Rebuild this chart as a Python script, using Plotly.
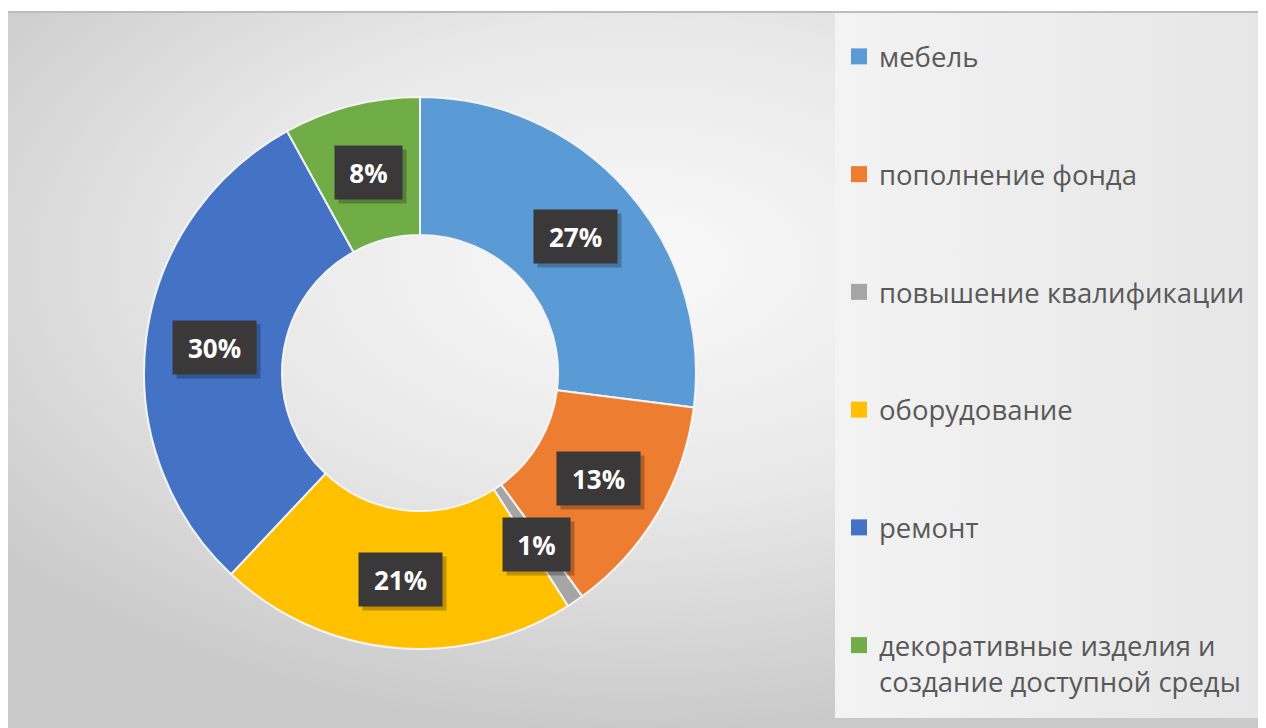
import base64
import math
import plotly.graph_objects as go

# ---- data ----
categories = [
    "мебель",
    "пополнение фонда",
    "повышение квалификации",
    "оборудование",
    "ремонт",
    "декоративные изделия и<br>создание доступной среды",
]
values = [27, 13, 1, 21, 30, 8]
colors = ["#5B9BD5", "#ED7D31", "#A5A5A5", "#FFC000", "#4472C4", "#70AD47"]

# ---- layout constants (figure pixel coordinates; page has an 8px body margin) ----
W, H = 1258, 720
CX, CY, R = 412, 365, 276
HOLE = 0.5

fig = go.Figure()

fig.add_trace(go.Pie(
    labels=categories,
    values=values,
    marker=dict(colors=colors, line=dict(color="#f4f4f4", width=2)),
    hole=HOLE,
    sort=False,
    direction="clockwise",
    rotation=0,
    textinfo="none",
    hoverinfo="label+percent",
    showlegend=False,
    domain=dict(x=[(CX - R) / W, (CX + R) / W], y=[1 - (CY + R) / H, 1 - (CY - R) / H]),
))

# legend entries (one group each so they can be spaced)
for cat, col in zip(categories, colors):
    fig.add_trace(go.Scatter(
        x=[None], y=[None], mode="markers", name=cat, legendgroup=cat,
        marker=dict(symbol="square", size=16, color=col),
        showlegend=True, hoverinfo="skip",
    ))

# data labels
total = sum(values)
rm = R * (1 + HOLE) / 2
cum = 0
annotations = []
for v in values:
    mid = (cum + v / 2) / total * 2 * math.pi
    cum += v
    px = CX + rm * math.sin(mid)
    py = CY - rm * math.cos(mid)
    pct = str(round(v / total * 100))
    bw = 16 * len(pct) + 29
    common = dict(x=px / W, y=1 - py / H, xref="paper", yref="paper",
                  showarrow=False, borderpad=11, xanchor="center", yanchor="middle",
                  width=bw, height=31)
    annotations.append(dict(text=" ", bgcolor="rgba(0,0,0,0.25)",
                            font=dict(family="Open Sans", size=26, color="rgba(0,0,0,0)"),
                            xshift=4, yshift=-4, **common))
    annotations.append(dict(text=f"<b>{pct}%</b>", bgcolor="#3a3838",
                            font=dict(family="Open Sans", size=26, color="#ffffff"),
                            **common))

svg = f'''<svg xmlns="http://www.w3.org/2000/svg" width="{W}" height="{H}" viewBox="0 0 {W} {H}">
<defs>
<radialGradient id="g" cx="0.5" cy="0.35" r="0.66">
<stop offset="0" stop-color="#f9f9f9"/>
<stop offset="0.5" stop-color="#e8e8e8"/>
<stop offset="1" stop-color="#c9c9c9"/>
</radialGradient>
<linearGradient id="l" x1="0" y1="0" x2="1" y2="0">
<stop offset="0" stop-color="#f3f3f3"/>
<stop offset="1" stop-color="#e6e6e6"/>
</linearGradient>
</defs>
<rect x="0" y="0" width="{W}" height="{H}" fill="#ffffff"/>
<rect x="0" y="4" width="{W}" height="{H - 4}" fill="url(#g)"/>
<rect x="0" y="3" width="{W}" height="2" fill="#bcbcbc"/>
<rect x="1253" y="5" width="5" height="{H - 5}" fill="#cfcfcf"/>
<rect x="827" y="5" width="426" height="705" fill="url(#l)"/>
</svg>'''
src = "data:image/svg+xml;base64," + base64.b64encode(svg.encode("utf-8")).decode("ascii")

fig.update_layout(
    width=W, height=H,
    margin=dict(l=0, r=0, t=0, b=0),
    paper_bgcolor="#ffffff",
    plot_bgcolor="rgba(0,0,0,0)",
    xaxis=dict(visible=False),
    yaxis=dict(visible=False),
    images=[dict(source=src, xref="paper", yref="paper", x=0, y=1, sizex=1, sizey=1,
                 xanchor="left", yanchor="top", sizing="stretch", layer="below")],
    legend=dict(
        x=831 / W, y=1 - 24 / H, xanchor="left", yanchor="top",
        bgcolor="rgba(0,0,0,0)", tracegroupgap=79, traceorder="grouped", valign="top",
        font=dict(family="Open Sans", size=27.5, color="#595959"),
        itemclick=False, itemdoubleclick=False,
    ),
    annotations=annotations,
)

fig.write_html("out.html")
